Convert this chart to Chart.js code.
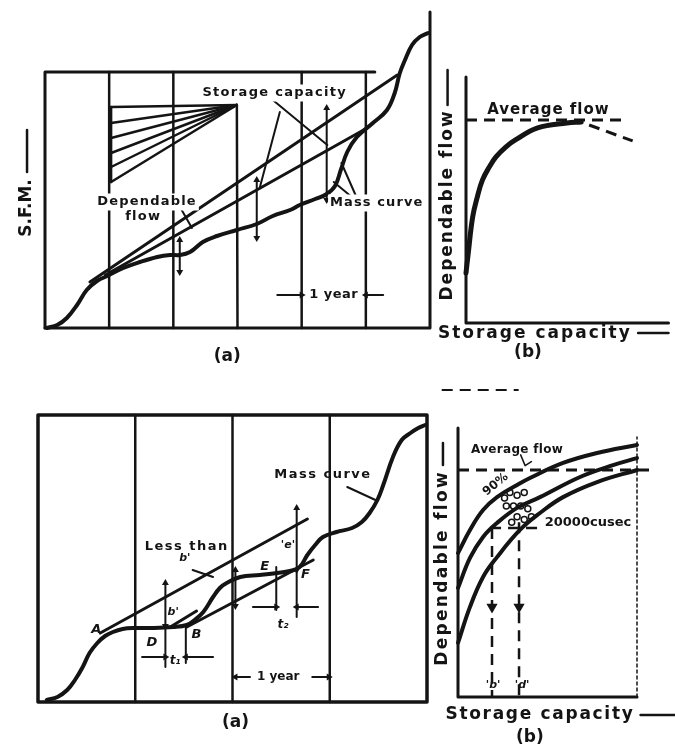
<!DOCTYPE html>
<html>
<head>
<meta charset="utf-8">
<script src="https://cdn.jsdelivr.net/npm/chart.js@4.4.1/dist/chart.umd.min.js"></script>
<style>
  html, body { margin: 0; padding: 0; background: #fff; }
  body { width: 675px; height: 749px; position: relative; overflow: hidden; }
  canvas { position: absolute; }
</style>
</head>
<body>
<canvas id="massTop" width="440" height="385" style="left:0;top:0;width:440px;height:385px"></canvas>
<canvas id="flowTop" width="245" height="400" style="left:430px;top:0;width:245px;height:400px"></canvas>
<canvas id="massBottom" width="440" height="359" style="left:0;top:390px;width:440px;height:359px"></canvas>
<canvas id="flowBottom" width="245" height="359" style="left:430px;top:390px;width:245px;height:359px"></canvas>
<script>
// ---- (a) top : mass curve, x in years, y in S.F.M. units
const yearLinesTop = [1, 2, 4, 5]
const massCurveTop = [[0.03,0],[0.19,0.3],[0.34,1.0],[0.50,2.3],[0.65,3.8],[0.81,4.7],[0.97,5.2],[1.22,6.0],[1.48,6.6],[1.75,7.1],[1.95,7.3],[2.10,7.3],[2.26,7.6],[2.46,8.6],[2.68,9.2],[2.99,9.8],[3.30,10.4],[3.55,11.2],[3.82,11.8],[3.97,12.3],[4.21,12.9],[4.39,13.4],[4.52,14.2],[4.61,15.8],[4.71,17.6],[4.86,19.1],[5.11,20.5],[5.33,21.8],[5.45,23.5],[5.53,25.5],[5.61,26.8],[5.72,28.3],[5.84,29.1],[5.97,29.5]]
const tangentsTop = [[[0.70,4.6],[5.49,25.3]], [[0.94,5.3],[5.02,20.0]]]
const fanApex = [2.99, 22.3]
const fanLeft = [22.1, 20.5, 19.0, 17.5, 16.1, 14.6]
const arrowsTop = [[2.10, 5.6, 8.8], [3.30, 9.0, 14.8], [4.39, 12.8, 22.0]]
const yearArrowsTop = [[3.62, 4.0, 3.3], [5.27, 5.0, 3.3]]
const leadersTop = [[[3.66,21.6],[3.35,14.1]], [[3.55,22.8],[4.40,18.3]], [[2.13,11.8],[2.29,10.0]], [[4.86,13.0],[4.62,16.5]], [[4.80,13.0],[4.50,14.6]]]

// ---- (b) top : dependable flow against storage capacity
const flowCurveTop = [[0,2.03],[0.10,2.76],[0.33,4.31],[0.57,5.16],[0.81,5.81],[1.15,6.34],[1.48,6.75],[1.96,7.15],[2.44,7.44],[3.54,7.93],[4.98,8.13],[5.69,8.17]]
const averageFlowTop = 8.25
const averageTailTop = [[6.08,8.05],[8.23,7.4]]

// ---- (a) bottom : mass curve with tangents
const yearLinesBottom = [1, 2, 3]
const massCurveBottom = [[0.09,0.2],[0.20,0.5],[0.30,1.2],[0.38,2.2],[0.46,3.5],[0.53,4.9],[0.61,5.9],[0.69,6.6],[0.77,7.0],[0.87,7.3],[0.98,7.4],[1.18,7.4],[1.39,7.5],[1.53,7.7],[1.61,8.2],[1.70,9.0],[1.80,10.5],[1.87,11.4],[1.94,11.9],[2.08,12.5],[2.28,12.7],[2.46,12.9],[2.59,13.1],[2.69,13.5],[2.77,14.7],[2.85,15.7],[2.93,16.5],[3.07,17.0],[3.23,17.4],[3.33,18.0],[3.41,18.9],[3.49,20.2],[3.55,21.7],[3.65,24.5],[3.74,26.2],[3.83,26.9],[3.91,27.4],[3.98,27.7]]
const tangentsBottom = [[[0.64,6.9],[2.77,18.3]], [[1.53,7.5],[2.83,14.2]], [[1.36,7.5],[1.63,9.1]]]
const arrowsBottom = [[1.31, 7.6, 11.9], [2.03, 9.6, 13.2], [2.66, 13.2, 19.4]]
const ticksBottom = [[1.31, 3.5, 7.6], [1.52, 3.9, 7.5], [2.45, 9.2, 13.5], [2.66, 8.5, 13.2]]
const spanArrowsBottom = [[1.07,1.31,4.5],[1.80,1.52,4.5],[2.21,2.45,9.5],[2.88,2.66,9.5],[2.18,2.03,2.5],[2.82,2.99,2.5]]
const leadersBottom = [[[3.18,21.5],[3.47,20.2]], [[1.59,13.2],[1.80,12.5]]]

// ---- (b) bottom : family of curves
const upperCurve = [[0,5.35],[0.67,6.21],[1.40,6.95],[2.18,7.43],[3.30,7.88],[4.02,8.14],[5.87,8.70],[7.77,9.07],[10,9.37]]
const middleCurve = [[0,4.05],[0.67,5.17],[1.40,5.95],[2.18,6.47],[3.30,7.03],[4.58,7.43],[6.82,8.18],[8.66,8.62],[10,8.88]]
const lowerCurve = [[0,2.01],[0.67,3.35],[1.40,4.46],[2.18,5.20],[3.46,6.21],[4.58,6.84],[5.87,7.43],[7.77,7.99],[10,8.44]]
const averageFlowBottom = 8.44
const flow20000 = 6.28
const storageMarks = [[1.90, 6.28], [3.41, 6.5]]
const hatchCircles = [[2.9,7.6],[3.3,7.5],[3.7,7.6],[2.7,7.1],[3.1,7.1],[3.5,7.1],[3.9,7.0],[3.3,6.7],[3.7,6.6],[4.1,6.7],[3.0,6.5],[2.6,7.4]]

const INK = '#141414'
const FONT = '"DejaVu Sans", "Liberation Sans", sans-serif'

const textPlugin = {
    id : 'sketchText',
    afterDatasetsDraw(chart, args, opts) {
        const { ctx, scales : { x, y } } = chart
        ;(opts.items || []).forEach(t => {
            ctx.save()
            ctx.translate(x.getPixelForValue(t.at[0]), y.getPixelForValue(t.at[1]))
            if (t.rotate) ctx.rotate(t.rotate * Math.PI / 180)
            ctx.font = `${t.italic ? 'italic ' : ''}bold ${t.size || 13}px ${FONT}`
            ctx.letterSpacing = (t.spacing || 0) + 'px'
            ctx.textAlign = 'center'
            ctx.textBaseline = 'middle'
            if (t.bg) {
                const w = ctx.measureText(t.text).width
                ctx.fillStyle = '#fff'
                ctx.fillRect(-w / 2 - 2, -(t.size || 13) / 2 - 2, w + 4, (t.size || 13) + 4)
            }
            ctx.fillStyle = INK
            ctx.fillText(t.text, 0, 0)
            ctx.restore()
        })
    }
}
Chart.register(textPlugin)

const toPts = arr => arr.map(([x, y]) => ({ x, y }))

const seg = (arr, extra = {}) => Object.assign({
    data : toPts(arr),
    showLine : true,
    borderColor : INK,
    backgroundColor : INK,
    borderWidth : 2.5,
    pointRadius : 0,
    tension : 0,
    clip : false,
    borderCapStyle : 'round',
    borderJoinStyle : 'round'
}, extra)

const curve = (arr, width = 4) => seg(arr, { tension : 0.4, borderWidth : width })

const dashed = (arr, width = 3) => seg(arr, { borderDash : [11, 7], borderCapStyle : 'butt', borderWidth : width })

const doubleArrow = ([x, lo, hi]) => seg([[x, hi], [x, lo]], {
    borderWidth : 2, pointRadius : 4, pointStyle : 'triangle', pointRotation : [0, 180], pointBorderWidth : 0
})

const vTick = ([x, lo, hi]) => seg([[x, lo], [x, hi]], { borderWidth : 2 })

const headArrow = ([from, to, y]) => seg([[from, y], [to, y]], {
    borderWidth : 2, pointRadius : [0, 4], pointStyle : 'triangle', pointRotation : to > from ? 90 : 270, pointBorderWidth : 0
})

const vHeadArrow = (x, from, to) => seg([[x, from], [x, to]], {
    borderWidth : 2.5, pointRadius : [0, 4], pointStyle : 'triangle', pointRotation : to > from ? 0 : 180, pointBorderWidth : 0
})

const options = (padding, xr, yr, items) => ({
    responsive : false,
    animation : false,
    devicePixelRatio : 1,
    events : [],
    layout : { padding },
    scales : {
        x : { type : 'linear', display : false, min : xr[0], max : xr[1] },
        y : { type : 'linear', display : false, min : yr[0], max : yr[1] }
    },
    plugins : { legend : { display : false }, tooltip : { enabled : false }, sketchText : { items } }
})

// ---------- (a) top
const topTop = 25.6
new Chart(document.getElementById('massTop'), {
    type : 'scatter',
    data : { datasets : [
        seg([[0, 0], [0, topTop], [5.14, topTop]], { borderWidth : 3 }),
        seg([[0, 0], [6, 0], [6, 31.6]], { borderWidth : 3 }),
        ...yearLinesTop.map(v => seg([[v, 0], [v, topTop]])),
        seg([[3, 0], fanApex]),
        seg([[1.03, fanLeft[0]], [1.03, fanLeft[fanLeft.length - 1]]]),
        ...fanLeft.map(v => seg([[1.03, v], fanApex])),
        ...tangentsTop.map(t => seg(t, { borderWidth : 3 })),
        curve(massCurveTop),
        ...arrowsTop.map(doubleArrow),
        ...yearArrowsTop.map(headArrow),
        ...leadersTop.map(l => seg(l, { borderWidth : 2 })),
        vHeadArrow(-0.28, 15.6, 19.8)
    ] },
    options : options({ left : 45, top : 12, right : 10, bottom : 57 }, [0, 6], [0, 31.6], [
        { text : 'Storage capacity', at : [3.58, 23.5], size : 13, spacing : 1.3, bg : true },
        { text : 'Dependable', at : [1.59, 12.6], size : 13, spacing : 1.2, bg : true },
        { text : 'flow', at : [1.53, 11.1], size : 13, spacing : 1.2, bg : true },
        { text : 'Mass curve', at : [5.17, 12.5], size : 13, spacing : 1.1, bg : true },
        { text : '1 year', at : [4.5, 3.3], size : 13, spacing : 0.5 },
        { text : 'S.F.M.', at : [-0.28, 12.0], size : 17, rotate : -90 },
        { text : '(a)', at : [2.84, -2.9], size : 17 }
    ])
})

// ---------- (b) top
new Chart(document.getElementById('flowTop'), {
    type : 'scatter',
    data : { datasets : [
        seg([[0, 10], [0, 0], [10, 0]], { borderWidth : 3 }),
        dashed([[0, averageFlowTop], [7.94, averageFlowTop]]),
        dashed(averageTailTop),
        curve(flowCurveTop, 5),
        vHeadArrow(-0.91, 8.86, 10.28),
        seg([[8.5, -0.41], [10, -0.41]], { borderWidth : 2.5, pointRadius : [0, 3.5], pointStyle : 'circle' }),
        dashed([[-1.2, -2.72], [2.6, -2.72]], 2)
    ] },
    options : options({ left : 36, top : 77, right : 0, bottom : 77 }, [0, 10], [0, 10], [
        { text : 'Dependable flow', at : [-0.91, 4.8], size : 17, spacing : 2, rotate : -90 },
        { text : 'Average flow', at : [4.07, 8.66], size : 15, spacing : 1 },
        { text : 'Storage capacity', at : [3.40, -0.41], size : 17, spacing : 2 },
        { text : '(b)', at : [3.06, -1.22], size : 17 }
    ])
})

// ---------- (a) bottom
new Chart(document.getElementById('massBottom'), {
    type : 'scatter',
    data : { datasets : [
        seg([[0, 0], [0, 28.7], [4, 28.7], [4, 0], [0, 0]], { borderWidth : 3.5 }),
        ...yearLinesBottom.map(v => seg([[v, 0], [v, 28.7]])),
        ...tangentsBottom.map(t => seg(t, { borderWidth : 3 })),
        curve(massCurveBottom),
        ...arrowsBottom.map(doubleArrow),
        ...ticksBottom.map(vTick),
        ...spanArrowsBottom.map(headArrow),
        ...leadersBottom.map(l => seg(l, { borderWidth : 2 }))
    ] },
    options : options({ left : 38, top : 25, right : 13, bottom : 47 }, [0, 4], [0, 28.7], [
        { text : 'Mass curve', at : [2.93, 22.7], size : 13, spacing : 1.5 },
        { text : 'Less than', at : [1.53, 15.5], size : 13, spacing : 1.5, bg : true },
        { text : "b'", at : [1.51, 14.4], size : 11, italic : true },
        { text : "'e'", at : [2.57, 15.7], size : 11, italic : true },
        { text : "b'", at : [1.39, 9.0], size : 11, italic : true },
        { text : 'A', at : [0.60, 7.2], size : 13, italic : true },
        { text : 'D', at : [1.17, 5.9], size : 13, italic : true },
        { text : 'B', at : [1.63, 6.7], size : 13, italic : true },
        { text : 'E', at : [2.33, 13.5], size : 13, italic : true },
        { text : 'F', at : [2.75, 12.7], size : 13, italic : true },
        { text : 't\u2081', at : [1.41, 4.1], size : 12, italic : true },
        { text : 't\u2082', at : [2.52, 7.7], size : 12, italic : true },
        { text : '1 year', at : [2.47, 2.5], size : 12 },
        { text : '(a)', at : [2.03, -2.1], size : 17 }
    ])
})

// ---------- (b) bottom
new Chart(document.getElementById('flowBottom'), {
    type : 'scatter',
    data : { datasets : [
        seg([[0, 10], [0, 0], [10, 0]], { borderWidth : 3 }),
        seg([[10, 0], [10, 9.67]], { borderWidth : 1.5, borderDash : [3, 3] }),
        dashed([[0, averageFlowBottom], [10.7, averageFlowBottom]]),
        dashed([[1.79, flow20000], [9.78, flow20000]], 2.5),
        ...storageMarks.map(([x, y]) => dashed([[x, y], [x, 0]], 2.5)),
        ...storageMarks.map(([x]) => seg([[x, 3.35]], { pointRadius : 4, pointStyle : 'triangle', pointRotation : 180, showLine : false })),
        curve(upperCurve),
        curve(middleCurve),
        curve(lowerCurve),
        seg(hatchCircles, { showLine : false, pointRadius : 3, pointStyle : 'circle', backgroundColor : 'rgba(0,0,0,0)', borderWidth : 1.5 }),
        seg([[3.5, 9.0], [3.75, 8.6], [4.1, 8.75]], { borderWidth : 1.5 }),
        vHeadArrow(-0.84, 8.62, 9.44),
        seg([[10.2, -0.67], [12.1, -0.67]], { borderWidth : 2.5, pointRadius : [0, 3.5], pointStyle : 'circle' })
    ] },
    options : options({ left : 28, top : 38, right : 38, bottom : 52 }, [0, 10], [0, 10], [
        { text : 'Dependable flow', at : [-0.84, 4.8], size : 17, spacing : 2.3, rotate : -90 },
        { text : 'Average flow', at : [3.30, 9.18], size : 12, spacing : 0.3 },
        { text : '90%', at : [2.1, 7.9], size : 12, rotate : -40 },
        { text : '20000cusec', at : [7.26, 6.5], size : 13, bg : true },
        { text : "'b'", at : [1.96, 0.45], size : 11, italic : true },
        { text : "'d'", at : [3.58, 0.45], size : 11, italic : true },
        { text : 'Storage capacity', at : [4.58, -0.67], size : 17, spacing : 1.7 },
        { text : '(b)', at : [4.02, -1.52], size : 17 }
    ])
})
</script>
</body>
</html>
